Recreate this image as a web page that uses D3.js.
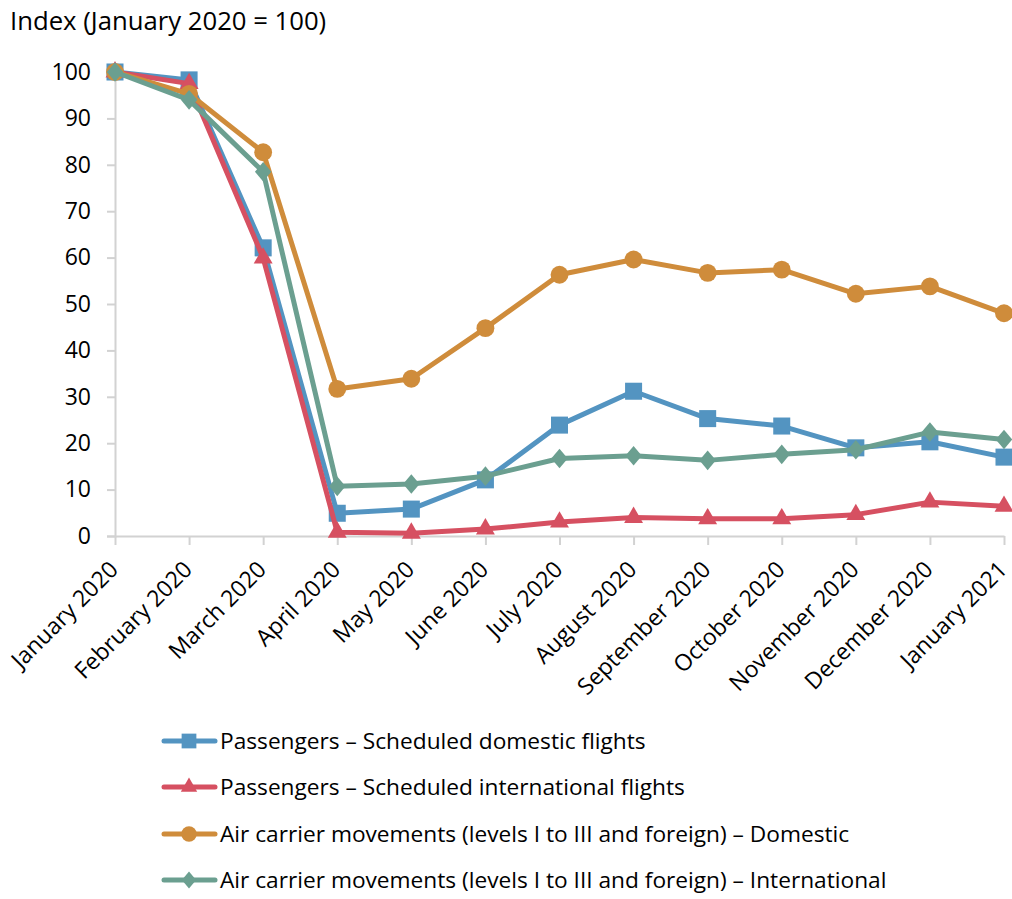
<!DOCTYPE html>
<html>
<head>
<meta charset="utf-8">
<script src="https://cdn.jsdelivr.net/npm/d3@7"></script>
<style>
  html, body { margin: 0; padding: 0; background: #ffffff; }
  svg { display: block; }
  text { font-family: "Open Sans", "Noto Sans", sans-serif; fill: #000; }
</style>
</head>
<body>
<svg id="chart" width="1012" height="899"></svg>
<script>
// Monthly index values, January 2020 = 100
const months = ["January 2020", "February 2020", "March 2020", "April 2020", "May 2020", "June 2020",
  "July 2020", "August 2020", "September 2020", "October 2020", "November 2020", "December 2020", "January 2021"];

const paxDomestic      = [100, 98.3, 62.1, 4.9, 5.8, 12.1, 23.9, 31.2, 25.3, 23.7, 19.0, 20.3, 17.0];
const paxInternational = [100, 97.5, 59.9, 0.8, 0.6, 1.5, 3.0, 4.0, 3.7, 3.7, 4.6, 7.3, 6.4];
const movDomestic      = [100, 95.3, 82.7, 31.7, 33.9, 44.8, 56.3, 59.6, 56.7, 57.4, 52.2, 53.8, 48.0];
const movInternational = [100, 94.0, 78.5, 10.7, 11.2, 12.9, 16.7, 17.3, 16.3, 17.6, 18.6, 22.4, 20.8];

const yTicks = [0, 10, 20, 30, 40, 50, 60, 70, 80, 90, 100];

const seriesNames = [
  "Passengers \u2013 Scheduled domestic flights",
  "Passengers \u2013 Scheduled international flights",
  "Air carrier movements (levels I to III and foreign) \u2013 Domestic",
  "Air carrier movements (levels I to III and foreign) \u2013 International"
];
const seriesValues = [paxDomestic, paxInternational, movDomestic, movInternational];
const seriesColors = ["#5394c1", "#d65061", "#cf8c3b", "#6b9f90"];

// Rhombus marker, a little taller than wide
const rhombus = {
  draw(context, size) {
    const h = Math.sqrt(size) * 0.62;
    const w = h * 0.84;
    context.moveTo(0, -h);
    context.lineTo(w, 0);
    context.lineTo(0, h);
    context.lineTo(-w, 0);
    context.closePath();
  }
};
const seriesSymbols = [d3.symbolSquare, d3.symbolTriangle, d3.symbolCircle, rhombus];
const symbolSizes = [290, 155, 250, 250];

const svg = d3.select("#chart");
const axisColor = "#d2d2d2";

const x = d3.scalePoint().domain(months).range([115, 1004]);
const y = d3.scaleLinear().domain([0, 100]).range([536, 72]);

// Title
svg.append("text")
  .attr("x", 10).attr("y", 30)
  .attr("font-size", 25.7)
  .text("Index (January 2020 = 100)");

// Y axis
const yAxis = svg.append("g").attr("transform", "translate(115,0)")
  .call(d3.axisLeft(y).tickValues(yTicks).tickSize(8).tickPadding(16).tickFormat(d3.format("d")));
yAxis.select(".domain").attr("stroke", axisColor).attr("stroke-width", 2);
yAxis.selectAll(".tick line").attr("stroke", axisColor).attr("stroke-width", 2);
yAxis.selectAll(".tick text").attr("font-size", 23).attr("font-family", null).attr("fill", "#000");

// X axis with slanted month labels
const xAxis = svg.append("g").attr("transform", "translate(0,536)")
  .call(d3.axisBottom(x).tickSize(9).tickSizeOuter(0));
xAxis.select(".domain").attr("stroke", axisColor).attr("stroke-width", 2);
xAxis.selectAll(".tick line").attr("stroke", axisColor).attr("stroke-width", 2);
xAxis.selectAll(".tick text")
  .attr("font-size", 23).attr("font-family", null).attr("fill", "#000")
  .attr("text-anchor", "end")
  .attr("dy", null)
  .attr("y", 0)
  .attr("transform", "translate(4,35) rotate(-45)");

// Series lines and markers
const line = d3.line().x((d, i) => x(months[i])).y(d => y(d));

seriesValues.forEach((vals, s) => {
  const g = svg.append("g");
  g.append("path")
    .datum(vals)
    .attr("d", line)
    .attr("fill", "none")
    .attr("stroke", seriesColors[s])
    .attr("stroke-width", 5)
    .attr("stroke-linejoin", "round");
  g.selectAll("path.marker")
    .data(vals)
    .join("path")
    .attr("class", "marker")
    .attr("d", d3.symbol().type(seriesSymbols[s]).size(symbolSizes[s]))
    .attr("transform", (d, i) => `translate(${x(months[i])},${y(d)})`)
    .attr("fill", seriesColors[s]);
});

// Legend
const legendRows = [741, 787, 834, 880];
seriesNames.forEach((name, s) => {
  const g = svg.append("g").attr("transform", `translate(0,${legendRows[s]})`);
  g.append("line")
    .attr("x1", 164).attr("x2", 215).attr("y1", 0).attr("y2", 0)
    .attr("stroke", seriesColors[s]).attr("stroke-width", 5).attr("stroke-linecap", "round");
  g.append("path")
    .attr("d", d3.symbol().type(seriesSymbols[s]).size(symbolSizes[s] * 0.75))
    .attr("transform", "translate(189,0)")
    .attr("fill", seriesColors[s]);
  g.append("text")
    .attr("x", 220).attr("y", 8)
    .attr("font-size", 22.7)
    .text(name);
});
</script>
</body>
</html>
